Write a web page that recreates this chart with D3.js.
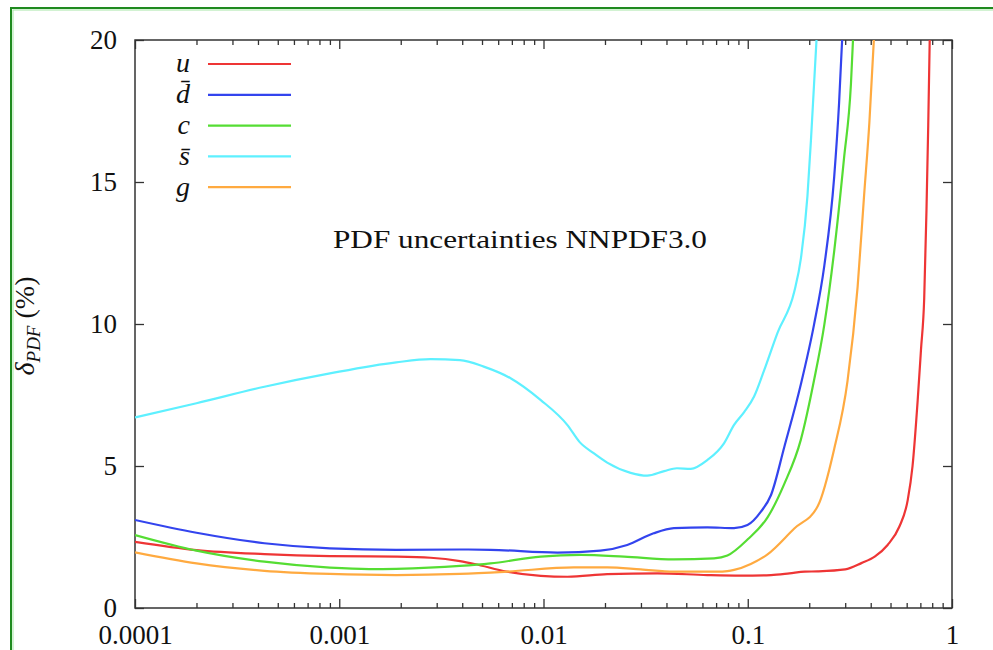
<!DOCTYPE html>
<html>
<head>
<meta charset="utf-8">
<script src="https://cdn.jsdelivr.net/npm/d3@7"></script>
<style>
  html, body { margin: 0; padding: 0; background: #fff; }
  svg { display: block; }
  svg text { font-family: "Liberation Serif", "Times New Roman", serif !important; fill: #111; }
</style>
</head>
<body>
<svg id="chart" width="993" height="650"></svg>
<script>
// PDF uncertainty (%) as a function of x, NNPDF3.0
const xTickValues = [1e-4, 1e-3, 1e-2, 1e-1, 1];
const xTickLabels = ["0.0001", "0.001", "0.01", "0.1", "1"];
const yTickValues = [0, 5, 10, 15, 20];
const yTickLabels = ["0", "5", "10", "15", "20"];

const seriesNames = ["u", "d\u0304", "c", "s\u0304", "g"];
const seriesColors = ["#ee3535", "#3344ee", "#55dd33", "#5ef0ff", "#ffaa40"];

// u
const uX = [1e-4, 2.0e-4, 4.3e-4, 9.0e-4, 1.9e-3, 2.8e-3, 3.9e-3, 4.6e-3, 6.6e-3, 9.7e-3, 1.31e-2, 2.05e-2, 3.61e-2, 6.34e-2, 9.25e-2, 0.13, 0.16, 0.19, 0.22, 0.30, 0.36, 0.42, 0.484, 0.552, 0.607, 0.641, 0.679, 0.705, 0.731, 0.75, 0.765, 0.78];
const uY = [2.33, 2.04, 1.90, 1.83, 1.81, 1.77, 1.65, 1.55, 1.28, 1.13, 1.10, 1.19, 1.22, 1.16, 1.14, 1.16, 1.22, 1.28, 1.29, 1.36, 1.58, 1.82, 2.22, 2.86, 3.8, 5.0, 7.3, 9.1, 10.9, 14.0, 17.0, 20.5];
// d-bar
const dbarX = [1e-4, 2.0e-4, 4.3e-4, 9.0e-4, 1.9e-3, 3.9e-3, 5.5e-3, 1.17e-2, 1.9e-2, 2.57e-2, 3.46e-2, 4.35e-2, 6.34e-2, 8.57e-2, 9.97e-2, 0.116, 0.130, 0.151, 0.182, 0.211, 0.237, 0.265, 0.280, 0.292];
const dbarY = [3.10, 2.65, 2.28, 2.10, 2.05, 2.06, 2.05, 1.95, 2.02, 2.22, 2.63, 2.81, 2.84, 2.81, 2.92, 3.39, 3.98, 5.67, 7.88, 9.97, 12.05, 15.18, 17.78, 20.5];
// c
const cX = [1e-4, 2.0e-4, 4.3e-4, 9.0e-4, 1.4e-3, 1.9e-3, 3.9e-3, 5.5e-3, 9.7e-3, 1.52e-2, 2.48e-2, 4.35e-2, 6.84e-2, 7.95e-2, 0.1, 0.125, 0.151, 0.182, 0.211, 0.237, 0.265, 0.296, 0.320, 0.330];
const cY = [2.57, 2.02, 1.63, 1.42, 1.37, 1.38, 1.48, 1.57, 1.81, 1.87, 1.81, 1.71, 1.75, 1.85, 2.42, 3.19, 4.37, 5.93, 8.01, 9.97, 12.57, 15.83, 18.44, 20.5];
// s-bar
const sbarX = [1e-4, 2.0e-4, 4.3e-4, 9.0e-4, 1.9e-3, 2.8e-3, 3.9e-3, 5.1e-3, 6.9e-3, 9.7e-3, 1.31e-2, 1.5e-2, 1.76e-2, 2.05e-2, 2.67e-2, 3.22e-2, 3.9e-2, 4.5e-2, 5.26e-2, 6.34e-2, 7.65e-2, 8.57e-2, 9.6e-2, 0.1074, 0.120, 0.140, 0.169, 0.182, 0.196, 0.204, 0.211, 0.219];
const sbarY = [6.71, 7.21, 7.79, 8.26, 8.65, 8.76, 8.73, 8.50, 8.09, 7.32, 6.44, 5.85, 5.45, 5.12, 4.76, 4.66, 4.82, 4.92, 4.90, 5.21, 5.80, 6.45, 6.90, 7.45, 8.35, 9.70, 11.14, 12.30, 14.50, 16.50, 18.40, 20.5];
// g
const gX = [1e-4, 2.0e-4, 4.3e-4, 9.0e-4, 1.9e-3, 3.9e-3, 6.6e-3, 1.41e-2, 2.05e-2, 2.99e-2, 4.35e-2, 7.1e-2, 7.95e-2, 8.57e-2, 0.1035, 0.125, 0.169, 0.220, 0.265, 0.308, 0.345, 0.371, 0.394, 0.418];
const gY = [1.96, 1.57, 1.31, 1.20, 1.16, 1.20, 1.28, 1.43, 1.43, 1.36, 1.28, 1.28, 1.30, 1.34, 1.55, 1.89, 2.80, 3.58, 5.6, 8.0, 11.3, 14.5, 17.1, 20.5];

const seriesX = [uX, dbarX, cX, sbarX, gX];
const seriesY = [uY, dbarY, cY, sbarY, gY];

const svg = d3.select("#chart");
const plotLeft = 135, plotRight = 952, plotTop = 40, plotBottom = 608;

const x = d3.scaleLog().domain([1e-4, 1]).range([plotLeft, plotRight]);
const y = d3.scaleLinear().domain([0, 20]).range([plotBottom, plotTop]);

// outer border
svg.append("rect").attr("x", 11).attr("y", 8).attr("width", 1000).attr("height", 700)
  .attr("fill", "none").attr("stroke", "#1f8a1f").attr("stroke-width", 2);
svg.append("rect").attr("x", 13).attr("y", 10).attr("width", 1000).attr("height", 700)
  .attr("fill", "none").attr("stroke", "#a6e6a6").attr("stroke-width", 1);

// minor log ticks
const minorX = [];
for (let d = -4; d < 0; d++) for (let k = 2; k <= 9; k++) minorX.push(k * Math.pow(10, d));

const axisColor = "#333";
function styleAxis(g) {
  g.select(".domain").remove();
  g.attr("font-family", null);
  g.selectAll(".tick line").attr("stroke", axisColor).attr("stroke-width", 1.3);
}

svg.append("g").attr("transform", `translate(0,${plotBottom})`)
  .call(d3.axisBottom(x).tickValues(minorX).tickSize(-5).tickFormat(""))
  .call(styleAxis);
svg.append("g").attr("transform", `translate(0,${plotTop})`)
  .call(d3.axisTop(x).tickValues(minorX).tickSize(-5).tickFormat(""))
  .call(styleAxis);

svg.append("g").attr("transform", `translate(0,${plotBottom})`)
  .call(d3.axisBottom(x).tickValues(xTickValues).tickSize(-9).tickPadding(27)
    .tickFormat((d, i) => xTickLabels[i]))
  .call(styleAxis)
  .call(g => g.selectAll(".tick text").attr("font-size", 27).attr("dy", "0.35em"));
svg.append("g").attr("transform", `translate(0,${plotTop})`)
  .call(d3.axisTop(x).tickValues(xTickValues).tickSize(-9).tickFormat(""))
  .call(styleAxis);

svg.append("g").attr("transform", `translate(${plotLeft},0)`)
  .call(d3.axisLeft(y).tickValues(yTickValues).tickSize(-9).tickPadding(18)
    .tickFormat((d, i) => yTickLabels[i]))
  .call(styleAxis)
  .call(g => g.selectAll(".tick text").attr("font-size", 27).attr("dy", "0.3em"));
svg.append("g").attr("transform", `translate(${plotRight},0)`)
  .call(d3.axisRight(y).tickValues(yTickValues).tickSize(-9).tickFormat(""))
  .call(styleAxis);

// plot frame
svg.append("rect").attr("x", plotLeft).attr("y", plotTop)
  .attr("width", plotRight - plotLeft).attr("height", plotBottom - plotTop)
  .attr("fill", "none").attr("stroke", axisColor).attr("stroke-width", 1.5);

// curves
svg.append("clipPath").attr("id", "plotclip").append("rect")
  .attr("x", plotLeft).attr("y", plotTop).attr("width", plotRight - plotLeft).attr("height", plotBottom - plotTop);

const line = d3.line()
  .x(d => x(d[0]))
  .y(d => y(d[1]))
  .curve(d3.curveMonotoneX);

const curves = svg.append("g").attr("clip-path", "url(#plotclip)");
seriesNames.forEach((name, i) => {
  const pts = seriesX[i].map((v, j) => [v, seriesY[i][j]]);
  curves.append("path").datum(pts)
    .attr("d", line)
    .attr("fill", "none")
    .attr("stroke", seriesColors[i])
    .attr("stroke-width", 2.2)
    .attr("stroke-linejoin", "round");
});

// legend
const legend = svg.append("g");
seriesNames.forEach((name, i) => {
  const ly = 64 + i * 30.8;
  legend.append("text")
    .attr("x", 190).attr("y", ly).attr("dy", "0.3em")
    .attr("text-anchor", "end")
    .attr("font-style", "italic")
    .attr("font-size", 28)
    .text(name);
  legend.append("line")
    .attr("x1", 208).attr("x2", 291).attr("y1", ly).attr("y2", ly)
    .attr("stroke", seriesColors[i]).attr("stroke-width", 2.2);
});

// title inside plot
svg.append("text")
  .attr("x", 520).attr("y", 248)
  .attr("text-anchor", "middle")
  .attr("font-size", 26)
  .attr("textLength", 374).attr("lengthAdjust", "spacingAndGlyphs")
  .text("PDF uncertainties NNPDF3.0");

// y-axis title
const yt = svg.append("text")
  .attr("transform", "translate(34,326) rotate(-90)")
  .attr("text-anchor", "middle")
  .attr("font-size", 28);
yt.append("tspan").attr("font-style", "italic").text("δ");
yt.append("tspan").attr("font-style", "italic").attr("font-size", 19).attr("dy", 6).text("PDF");
yt.append("tspan").attr("dy", -6).text(" (%)");
</script>
</body>
</html>
